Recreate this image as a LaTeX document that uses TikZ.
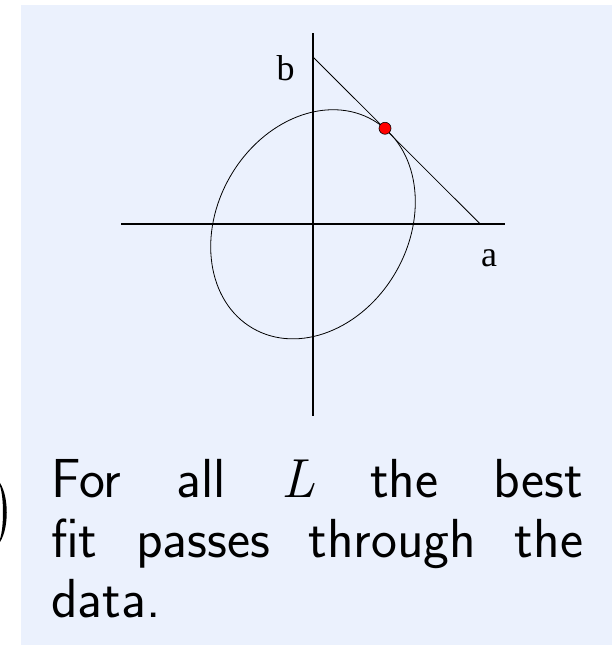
\documentclass[tikz,border=0pt]{standalone}
\usepackage{fontspec}
\newfontfamily\labfont{Liberation Serif}
\newfontfamily\lmrfont{Latin Modern Roman}
\definecolor{bg}{RGB}{235,241,253}
\begin{document}
\begin{tikzpicture}[x=1pt,y=1pt,
  axis/.style={line width=1.8pt},
  thinline/.style={line width=0.8pt},
  lab/.style={font=\labfont\fontsize{36}{40}\selectfont, inner sep=0pt, anchor=base}]
\useasboundingbox (0,0) rectangle (612,647);
\fill[bg] (21,2) rectangle (612,642);
% partial parenthesis at the left edge
\fill (0,164) .. controls (9,150) and (9,119) .. (0,105) -- (0,108) .. controls (4,120) and (4,149) .. (0,161) -- cycle;
\coordinate (O) at (313,422.7);
\coordinate (xl) at (121,422.7);
\coordinate (xr) at (504.5,422.7);
\coordinate (yt) at (313,614.3);
\coordinate (yb) at (313,231);
\draw[axis] (xl) -- (xr);
\draw[axis] (yb) -- (yt);
\draw[thinline, rotate around={60:(O)}] (O) ellipse [x radius=120.2, y radius=95.6];
\coordinate (A) at (480.5,422.7);
\coordinate (B) at (313,590);
\draw[thinline] (B) -- (A);
\node[circle, fill=red, draw=black, line width=0.6pt, minimum size=12pt, inner sep=0pt] (P) at (385,518.7) {};
\node[lab] (lb) at (285.7,566) {b};
\node[lab] (la) at (489,380.3) {a};
\node[anchor=base west, text width=532pt, align=justify, inner sep=0pt,
  font=\sffamily\fontsize{55}{60}\selectfont] (txt) at (51,149)
  {For all {\lmrfont\itshape L\/} the best\linebreak fit passes through the\linebreak data.};
\end{tikzpicture}
\end{document}
